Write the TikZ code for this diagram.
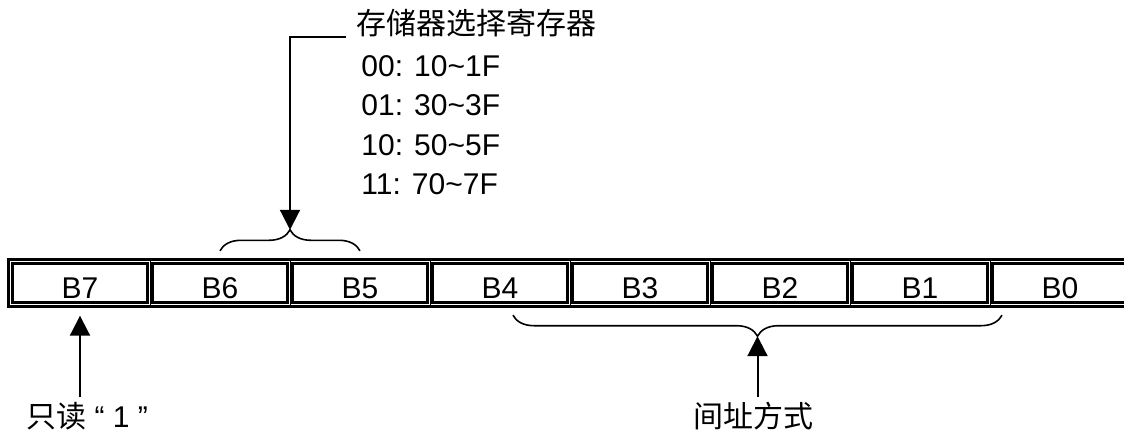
\documentclass[tikz,border=0pt]{standalone}
\usepackage{fontspec}
\setmainfont{Liberation Sans}
\newfontfamily\cjk{Noto Sans CJK SC}
\usetikzlibrary{arrows.meta,decorations.pathreplacing,positioning}

\begin{document}
\fontsize{15}{18}\selectfont
\begin{tikzpicture}[x=0.5pt, y=-0.5pt,
        bitcell/.style={draw, line width=1.2pt, inner sep=0pt, minimum width=67.5pt, minimum height=19.5pt, text height=17.25pt, text depth=2.25pt},
        arr/.style={line width=1pt, -{Triangle[length=10pt, width=10pt]}},
        brc/.style={decorate, decoration={brace, amplitude=10.5pt}, line width=0.8pt},
        lbl/.style={font=\cjk, inner sep=2pt}]
        \useasboundingbox (0,0) rectangle (1124,433);

        % register bits
        \draw[line width=1.6pt] (8.5,259.5) rectangle (1140,306.7);
        \foreach \b [count=\k from 0] in {7,6,5,4,3,2,1,0} {
            \node[bitcell] (b\b) at (80+140*\k, 283) {B\b};
            \draw[line width=0.5pt] (150.5+140*\k, 261) -- (150.5+140*\k, 305);
        }

        % memory select bits
        \node[lbl, anchor=base west] (memsel) at (352,35) {存储器选择寄存器};
        \foreach \t [count=\i] in {00: 10\textasciitilde 1F, 01: 30\textasciitilde 3F, 10: 50\textasciitilde 5F, 11: 70\textasciitilde 7F}
            \node[anchor=base west, inner sep=2pt] (map\i) at (357, 36.5+39.6*\i) {\t};
        \draw[brc] ([yshift=5.75pt]b6.north) -- ([yshift=5.75pt]b5.north);
        \path (b6.north) -- (b5.north) coordinate[midway, yshift=16.25pt] (seltip);
        \draw[arr] ([xshift=-3pt, yshift=-1pt]memsel.base west) -| (seltip);

        % read only bit
        \node[lbl, anchor=base] (ro) at (87,427) {只读{\rmfamily{} “ 1 ”}};
        \draw[arr] (ro.north -| b7.south) -- ([yshift=-6pt]b7.south);

        % addressing mode
        \draw[brc] ([xshift=-29pt, yshift=-5.75pt]b0.south) -- ([xshift=6.5pt, yshift=-5.75pt]b4.south);
        \path ([xshift=6.5pt, yshift=-5.75pt]b4.south) -- ([xshift=-29pt, yshift=-5.75pt]b0.south) coordinate[midway, yshift=-10.5pt] (modetip);
        \node[lbl, anchor=base] (mode) at (753,427) {间址方式};
        \draw[arr] (mode.north -| modetip) -- (modetip);
    \end{tikzpicture}
\end{document}
